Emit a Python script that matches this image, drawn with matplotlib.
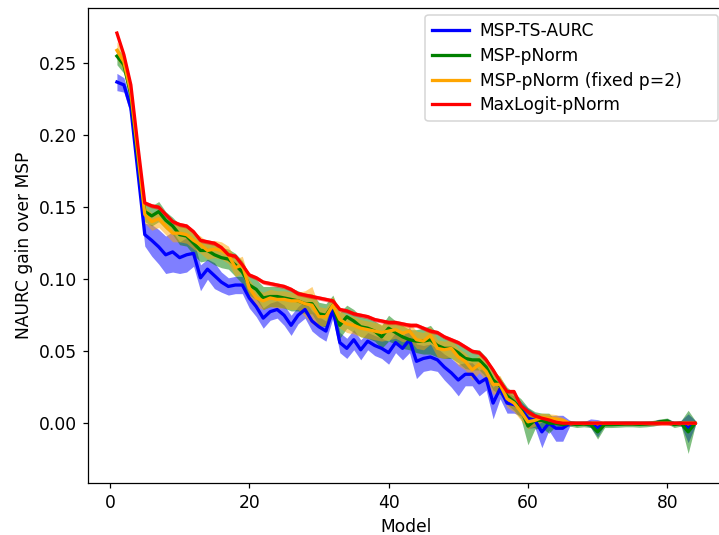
import numpy as np
import matplotlib
matplotlib.use("Agg")
import matplotlib.pyplot as plt

# model index (x axis)
models = list(range(1, 85))

# mean NAURC gain over MSP, per method
msp_ts_aurc = [
    0.237, 0.235, 0.219, 0.175, 0.131, 0.127, 0.1225, 0.117, 0.119, 0.115,
    0.117, 0.118, 0.101, 0.107, 0.1025, 0.098, 0.095, 0.096, 0.096, 0.087,
    0.081, 0.073, 0.0775, 0.079, 0.075, 0.068, 0.075, 0.079, 0.071, 0.067,
    0.064, 0.079, 0.056, 0.052, 0.058, 0.051, 0.057, 0.054, 0.052, 0.049,
    0.056, 0.052, 0.058, 0.043, 0.045, 0.046, 0.044, 0.039, 0.035, 0.030,
    0.034, 0.034, 0.028, 0.031, 0.014, 0.024, 0.014, 0.013, 0.010, 0.0035,
    0.002, -0.006, 0.0, -0.0035, -0.0035, 0.0, 0.0, 0.0, 0.0, -0.0035,
    0.0, 0.0, 0.0, 0.0, 0.0, 0.0, 0.0, 0.0, 0.001, 0.001,
    0.0, 0.0, -0.0035, 0.0,
]
msp_pnorm = [
    0.255, 0.249, 0.228, 0.185, 0.147, 0.144, 0.147, 0.141, 0.137, 0.131,
    0.130, 0.125, 0.120, 0.120, 0.117, 0.115, 0.114, 0.110, 0.105, 0.096,
    0.093, 0.087, 0.088, 0.088, 0.087, 0.086, 0.085, 0.083, 0.083, 0.076,
    0.075, 0.082, 0.068, 0.074, 0.071, 0.067, 0.066, 0.064, 0.060, 0.066,
    0.063, 0.060, 0.058, 0.057, 0.057, 0.058, 0.054, 0.052, 0.052, 0.049,
    0.045, 0.044, 0.044, 0.039, 0.030, 0.026, 0.019, 0.015, 0.010, -0.002,
    0.002, 0.002, 0.0, 0.0, -0.001, 0.0, -0.001, -0.0005, -0.001, -0.006,
    -0.001, -0.001, -0.0008, -0.0005, -0.0005, -0.0008, -0.0005, 0.0, 0.001, 0.0016,
    -0.001, 0.0, -0.006, 0.0,
]
msp_pnorm_p2 = [
    0.259, 0.251, 0.230, 0.188, 0.145, 0.140, 0.142, 0.137, 0.132, 0.132,
    0.131, 0.127, 0.124, 0.120, 0.121, 0.120, 0.117, 0.108, 0.110, 0.094,
    0.087, 0.085, 0.087, 0.086, 0.086, 0.085, 0.085, 0.083, 0.082, 0.074,
    0.074, 0.082, 0.072, 0.069, 0.068, 0.066, 0.065, 0.064, 0.063, 0.064,
    0.065, 0.0625, 0.064, 0.058, 0.057, 0.061, 0.052, 0.051, 0.052, 0.046,
    0.043, 0.037, 0.041, 0.036, 0.027, 0.027, 0.017, 0.014, 0.008, 0.001,
    0.002, 0.004, 0.0035, 0.003, 0.002, 0.0, 0.0, 0.0, 0.0, 0.0,
    0.0, 0.0, 0.0, 0.0, 0.0, 0.0, 0.0, 0.0, 0.0, 0.0,
    0.0, 0.0, 0.0, 0.0,
]
maxlogit_pnorm = [
    0.271, 0.256, 0.235, 0.193, 0.153, 0.151, 0.150, 0.145, 0.140, 0.138,
    0.137, 0.133, 0.127, 0.126, 0.125, 0.122, 0.117, 0.116, 0.110, 0.103,
    0.101, 0.098, 0.097, 0.096, 0.095, 0.093, 0.090, 0.089, 0.088, 0.087,
    0.086, 0.085, 0.079, 0.078, 0.076, 0.075, 0.074, 0.072, 0.071, 0.070,
    0.070, 0.069, 0.068, 0.068, 0.066, 0.064, 0.063, 0.060, 0.058, 0.056,
    0.053, 0.050, 0.049, 0.044, 0.037, 0.029, 0.022, 0.022, 0.012, 0.008,
    0.005, 0.0035, 0.0023, 0.0007, 0.0, 0.0, 0.0, 0.0, 0.0, 0.0,
    0.0, 0.0, 0.0, 0.0, 0.0, 0.0, 0.0, 0.0, 0.0, 0.0,
    0.0, 0.0, 0.0, 0.0,
]

# spread (std) of each method, drawn as a shaded band
msp_ts_aurc_std = [
    0.006, 0.005, 0.005, 0.006, 0.008, 0.011, 0.012, 0.013, 0.014, 0.011,
    0.012, 0.009, 0.009, 0.007, 0.009, 0.007, 0.006, 0.006, 0.006, 0.007,
    0.007, 0.007, 0.006, 0.006, 0.007, 0.007, 0.006, 0.006, 0.007, 0.007,
    0.007, 0.006, 0.007, 0.007, 0.007, 0.007, 0.006, 0.007, 0.007, 0.008,
    0.007, 0.008, 0.009, 0.012, 0.009, 0.009, 0.008, 0.009, 0.010, 0.011,
    0.008, 0.008, 0.009, 0.008, 0.011, 0.007, 0.007, 0.006, 0.005, 0.007,
    0.005, 0.011, 0.005, 0.009, 0.009, 0.002, 0.001, 0.001, 0.003, 0.006,
    0.001, 0.001, 0.001, 0.001, 0.001, 0.001, 0.001, 0.001, 0.001, 0.002,
    0.001, 0.002, 0.010, 0.002,
]
msp_pnorm_std = [
    0.006, 0.006, 0.006, 0.006, 0.007, 0.007, 0.007, 0.006, 0.006, 0.007,
    0.007, 0.008, 0.008, 0.007, 0.007, 0.007, 0.007, 0.008, 0.008, 0.007,
    0.007, 0.008, 0.007, 0.007, 0.007, 0.008, 0.007, 0.007, 0.007, 0.008,
    0.008, 0.007, 0.009, 0.008, 0.008, 0.007, 0.007, 0.007, 0.008, 0.009,
    0.008, 0.008, 0.007, 0.008, 0.009, 0.010, 0.008, 0.007, 0.007, 0.007,
    0.007, 0.007, 0.007, 0.007, 0.007, 0.006, 0.006, 0.006, 0.007, 0.013,
    0.006, 0.005, 0.007, 0.002, 0.002, 0.002, 0.002, 0.002, 0.002, 0.005,
    0.002, 0.002, 0.002, 0.002, 0.002, 0.002, 0.002, 0.002, 0.002, 0.002,
    0.002, 0.002, 0.015, 0.002,
]
msp_pnorm_p2_std = [
    0.006, 0.006, 0.006, 0.006, 0.006, 0.006, 0.006, 0.006, 0.006, 0.006,
    0.006, 0.006, 0.006, 0.006, 0.006, 0.006, 0.006, 0.006, 0.006, 0.006,
    0.006, 0.006, 0.006, 0.006, 0.006, 0.006, 0.006, 0.009, 0.013, 0.007,
    0.006, 0.006, 0.006, 0.006, 0.006, 0.006, 0.006, 0.006, 0.006, 0.006,
    0.006, 0.006, 0.006, 0.006, 0.006, 0.006, 0.006, 0.006, 0.006, 0.006,
    0.006, 0.007, 0.006, 0.006, 0.007, 0.006, 0.006, 0.006, 0.006, 0.005,
    0.004, 0.003, 0.003, 0.003, 0.002, 0.001, 0.001, 0.001, 0.001, 0.001,
    0.001, 0.001, 0.001, 0.001, 0.001, 0.001, 0.001, 0.001, 0.001, 0.001,
    0.001, 0.001, 0.001, 0.001,
]
maxlogit_pnorm_std = [0.0015] * 84

series = [
    ("MSP-TS-AURC", msp_ts_aurc, msp_ts_aurc_std, "blue"),
    ("MSP-pNorm", msp_pnorm, msp_pnorm_std, "green"),
    ("MSP-pNorm (fixed p=2)", msp_pnorm_p2, msp_pnorm_p2_std, "orange"),
    ("MaxLogit-pNorm", maxlogit_pnorm, maxlogit_pnorm_std, "red"),
]

plt.rcParams["font.size"] = 11

fig = plt.figure(figsize=(719 / 112, 535 / 112), dpi=112)
# axes run slightly past the right edge, as in the cropped reference
ax = fig.add_axes([0.1224, 0.0978, 0.8846, 0.8872])

x = np.array(models)
for label, mean, std, color in series:
    m = np.array(mean)
    s = np.array(std)
    ax.fill_between(x, m - s, m + s, color=color, alpha=0.5, linewidth=0)
    ax.plot(x, m, color=color, linewidth=2.1, label=label)

ax.set_xlim(-3.15, 88.15)
ax.set_ylim(-0.0413, 0.2884)
ax.set_xlabel("Model")
ax.set_ylabel("NAURC gain over MSP")
# legend box is wider than its text in the reference
ax.legend(loc="upper right", bbox_to_anchor=(0.53, 0.0, 0.4607, 0.9853),
          mode="expand", borderaxespad=0, labelspacing=0.4,
          handlelength=2.15, handletextpad=0.65)

fig.savefig("out.png", dpi=112)
